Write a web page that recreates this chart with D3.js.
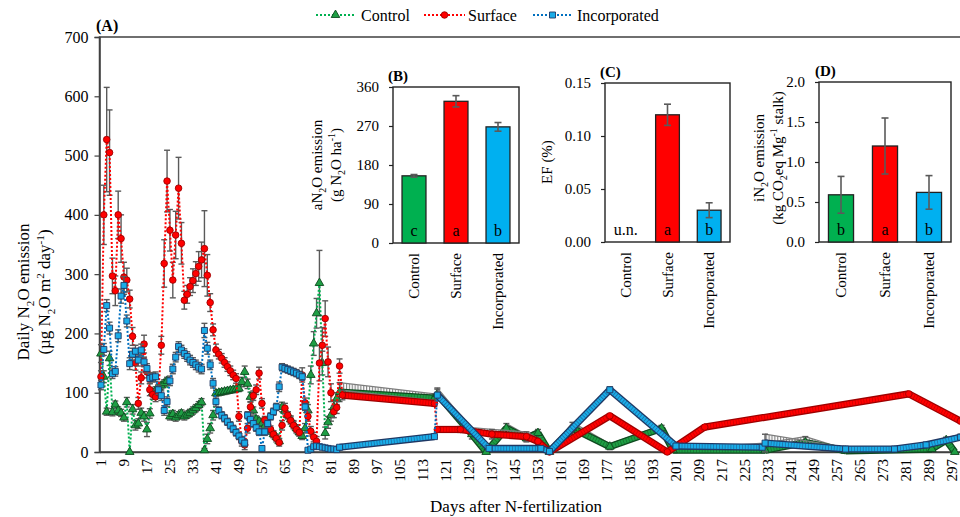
<!DOCTYPE html>
<html><head><meta charset="utf-8">
<script src="https://cdn.jsdelivr.net/npm/d3@7"></script>
<style>
body{margin:0;background:#fff}
svg{display:block}
text{font-family:"Liberation Serif","Times New Roman",serif;fill:#000}
</style>
</head><body><svg id="c" width="960" height="517"></svg>
<script>
// ---------- DATA ----------
// [day, mean, sd]
const controlData = [
[1,166,15],[2,127,10],[3,68,6],[4,158,12],[5,67,6],[6,80,6],[7,70,6],[8,66,6],[9,58,6],[10,84,8],[11,0,0],[12,72,8],[13,45,8],[14,48,8],[15,66,8],[16,60,8],[17,38,12],[18,65,8],[19,100,6],[20,104,6],[21,108,6],[22,112,6],[23,116,6],[24,120,6],[25,60,6],[26,64,6],[27,58,6],[28,62,6],[29,65,6],[30,60,6],[31,63,6],[32,66,6],[33,70,6],[34,74,6],[35,79,6],[36,84,6],[37,3,3],[38,22,8],[39,40,8],[40,62,8],[41,99,5],[42,100,5],[43,101,5],[44,102,5],[45,103,5],[46,104,5],[47,105,5],[48,106,5],[49,107,5],[50,118,8],[51,135,10],[52,115,8],[53,93,8],[54,70,6],[55,55,6],[56,52,5],[57,48,5],[58,44,5],[59,40,5],[60,35,5],[61,30,5],[62,25,5],[63,18,5],[64,76,8],[65,70,6],[66,62,6],[67,55,6],[68,47,6],[69,40,6],[70,33,6],[71,27,6],[72,40,8],[73,70,10],[74,130,15],[75,183,20],[76,234,25],[77,285,55],[78,150,20],[79,32,10],[80,50,10],[81,62,10],[82,76,10],[83,90,10],[84,101,16],
[117,91,7],[118,98,10],[130,30,8],[135,0,0],[142,40,8],[149,23,6],[153,32,6],[157,0,0],[165,40,10],[178,9,5],[196,40,5],[200,3,2],[232,3,12],[246,16,10],[260,2,3],[290,5,3],[295,20,5],[298,0,0]
];
const surfaceData = [
[1,127,10],[2,400,50],[3,527,88],[4,505,72],[5,297,30],[6,272,25],[7,400,40],[8,360,40],[9,295,25],[10,290,20],[11,258,15],[12,195,15],[13,150,12],[14,82,10],[15,125,10],[16,182,15],[17,135,10],[18,105,10],[19,97,8],[20,93,8],[21,100,8],[22,180,15],[23,318,40],[24,457,52],[25,374,35],[26,290,30],[27,366,40],[28,445,52],[29,352,35],[30,256,15],[31,266,15],[32,279,15],[33,289,20],[34,301,20],[35,313,25],[36,324,30],[37,343,64],[38,298,35],[39,252,15],[40,206,10],[41,172,10],[42,165,8],[43,158,8],[44,151,8],[45,144,8],[46,137,8],[47,130,8],[48,124,8],[49,60,8],[50,18,8],[51,12,8],[52,40,8],[53,76,8],[54,95,8],[55,105,8],[56,133,10],[57,82,8],[58,54,6],[59,46,6],[60,38,6],[61,30,6],[62,23,6],[63,16,6],[64,45,8],[65,74,8],[66,62,6],[67,53,6],[68,45,6],[69,38,6],[70,33,6],[71,130,12],[72,83,8],[73,60,8],[74,35,8],[75,25,8],[76,18,8],[77,150,30],[78,180,30],[79,225,30],[80,152,25],[81,100,15],[82,68,10],[83,75,10],[84,145,12],
[85,96,8],[117,82,5],[118,38,4],[126,38,5],[137,30,8],[149,26,8],[153,18,5],[157,0,0],[178,61,3],[198,0,0],[211,42,2],[282,98,2],[300,52,2]
];
const incorporatedData = [
[1,113,8],[2,173,10],[3,247,10],[4,209,10],[5,132,8],[6,136,8],[7,196,10],[8,263,12],[9,281,15],[10,221,10],[11,149,10],[12,165,10],[13,170,10],[14,155,10],[15,172,10],[16,152,8],[17,141,8],[18,124,8],[19,126,8],[20,127,8],[21,105,8],[22,95,8],[23,70,8],[24,85,8],[25,120,8],[26,140,8],[27,160,8],[28,178,8],[29,172,8],[30,166,8],[31,161,8],[32,155,8],[33,151,8],[34,147,8],[35,143,8],[36,140,8],[37,205,12],[38,175,10],[39,147,8],[40,116,8],[41,85,8],[42,70,6],[43,62,6],[44,57,6],[45,51,6],[46,45,6],[47,39,6],[48,33,6],[49,27,6],[50,20,6],[51,15,6],[52,62,6],[53,55,6],[54,48,6],[55,41,6],[56,34,6],[57,6,4],[58,34,6],[59,48,6],[60,60,6],[61,68,6],[62,76,6],[63,110,8],[64,143,6],[65,141,6],[66,139,6],[67,137,6],[68,135,6],[69,133,6],[70,130,6],[71,127,6],[72,76,6],[73,3,2],[74,5,2],[75,9,2],[76,10,2],[77,9,2],[78,8,2],[79,7,2],[80,6,2],[81,5,2],[82,5,2],[83,4,2],[84,8,2],
[117,26,2],[118,96,10],[136,6,3],[154,6,2],[157,1,1],[178,105,5],[201,10,2],[231,8,2],[232,15,15],[260,5,3],[277,5,2],[288,12,3],[300,25,5]
];
const xTickDays = [1,9,17,25,33,41,49,57,65,73,81,89,97,105,113,121,129,137,145,153,161,169,177,185,193,201,209,217,225,233,241,249,257,265,273,281,289,297];
const yTicks = [0,100,200,300,400,500,600,700];

const treatments = ["Control","Surface","Incorporated"];
const aN2O = [155,327,268];
const aN2OErr = [3,13,10];
const aLetters = ["c","a","b"];
const aTicks = [0,90,180,270,360];
const efValues = [null,0.12,0.03];
const efErr = [0,0.01,0.007];
const efLetters = ["u.n.","a","b"];
const efTicks = [0,0.05,0.10,0.15];
const iN2O = [0.59,1.20,0.62];
const iN2OErr = [0.23,0.35,0.21];
const iLetters = ["b","a","b"];
const iTicks = [0,0.5,1.0,1.5,2.0];

// ---------- SETUP ----------
const svg = d3.select('#c');
const FONT = '"Liberation Serif","Times New Roman",serif';
const x = d3.scaleLinear().domain([0.5,300.5]).range([99.5,962]);
const y = d3.scaleLinear().domain([0,700]).range([452,37]);
const AX = '#404040';

function rich(sel, parts, size){
  let off = 0;
  parts.forEach(([t,m])=>{
    const target = m==='sub' ? size*0.27 : (m==='sup' ? -size*0.38 : 0);
    const ts = sel.append('tspan').text(t).attr('dy', (target-off).toFixed(2));
    if(m) ts.attr('font-size', (size*0.66).toFixed(1));
    off = target;
  });
}

const defs = svg.append('defs');
const pat = defs.append('pattern').attr('id','hatch').attr('patternUnits','userSpaceOnUse')
  .attr('width',2.875).attr('height',8);
pat.append('rect').attr('x',1).attr('y',0).attr('width',1.1).attr('height',8).attr('fill','#7d7d7d');

// ---------- MAIN AXES ----------
svg.append('rect').attr('x',99.5).attr('y',37).attr('width',900).attr('height',415)
  .attr('fill','none').attr('stroke',AX).attr('stroke-width',1.5);

const yAxis = svg.append('g').attr('transform','translate(99.5,0)')
  .call(d3.axisLeft(y).tickValues(yTicks).tickSize(5).tickPadding(6));
yAxis.select('.domain').attr('stroke',AX).attr('stroke-width',1.5);
yAxis.selectAll('line').attr('stroke',AX).attr('stroke-width',1.2);
yAxis.selectAll('text').attr('font-family',FONT).attr('font-size',16).attr('fill','#000');

const xAxis = svg.append('g').attr('transform','translate(0,452)')
  .call(d3.axisBottom(x).tickValues(xTickDays).tickSize(0).tickPadding(0));
xAxis.select('.domain').attr('stroke',AX).attr('stroke-width',1.5);
xAxis.selectAll('text').attr('font-family',FONT).attr('font-size',15).attr('fill','#000')
  .attr('transform','rotate(-90)').attr('text-anchor','end').attr('x',-7).attr('y',0).attr('dy','0.33em');

svg.append('text').attr('x',516).attr('y',512).attr('text-anchor','middle').attr('font-size',17)
  .text('Days after N-fertilization');

const yt1 = svg.append('text').attr('transform','translate(29,292) rotate(-90)').attr('text-anchor','middle').attr('font-size',17);
rich(yt1, [['Daily N'],['2','sub'],['O emission']], 17);
const yt2 = svg.append('text').attr('transform','translate(50,292) rotate(-90)').attr('text-anchor','middle').attr('font-size',17);
rich(yt2, [['(µg N'],['2','sub'],['O m'],['2','sup'],[' day'],['-1','sup'],[')']], 17);

svg.append('text').attr('x',96).attr('y',31).attr('font-size',16).attr('font-weight','bold').text('(A)');

// ---------- SERIES ----------
const series = [
  {name:'Control', data:controlData, line:'#00B050', fill:'#1E9E44', edge:'#0E4A1F', sym:d3.symbolTriangle, size:32},
  {name:'Surface', data:surfaceData, line:'#FF0000', fill:'#FF0000', edge:'#9E0000', sym:d3.symbolCircle, size:34},
  {name:'Incorporated', data:incorporatedData, line:'#0070C0', fill:'#1AACE8', edge:'#1F3864', sym:d3.symbolSquare, size:36}
];
const ERR = '#5a5a5a';
const plot = svg.append('g');

series.forEach(s=>{
  const g = plot.append('g');
  const d = s.data;
  const gaps = [];
  for(let i=0;i<d.length-1;i++){ if(d[i+1][0]-d[i][0]>1) gaps.push([d[i],d[i+1]]); }
  gaps.forEach(([a,b])=>{
    if(a[2]+b[2] < 4) return;
    const pts = [[x(a[0]),y(a[1])],[x(b[0]),y(b[1])],[x(b[0]),y(b[1]+b[2])],[x(a[0]),y(a[1]+a[2])]];
    g.append('path').attr('d','M'+pts.join('L')+'Z').attr('fill','url(#hatch)');
    g.append('line').attr('x1',x(a[0])).attr('y1',y(a[1]+a[2])).attr('x2',x(b[0])).attr('y2',y(b[1]+b[2]))
      .attr('stroke','#7d7d7d').attr('stroke-width',1.2);
  });
  d.filter(p=>p[2]>0).forEach(p=>{
    const cx = x(p[0]);
    g.append('line').attr('x1',cx).attr('x2',cx).attr('y1',y(Math.max(0,p[1]-p[2]))).attr('y2',y(p[1]+p[2]))
      .attr('stroke',ERR).attr('stroke-width',1.4);
    [p[1]+p[2], Math.max(0,p[1]-p[2])].forEach(v=>{
      g.append('line').attr('x1',cx-3).attr('x2',cx+3).attr('y1',y(v)).attr('y2',y(v))
        .attr('stroke',ERR).attr('stroke-width',1.4);
    });
  });
  g.append('path').datum(d).attr('d', d3.line().x(p=>x(p[0])).y(p=>y(p[1])))
    .attr('fill','none').attr('stroke',s.line).attr('stroke-width',2).attr('stroke-dasharray','2,2');
  gaps.forEach(([a,b])=>{
    const dd = `M${x(a[0])},${y(a[1])}L${x(b[0])},${y(b[1])}`;
    g.append('path').attr('d',dd).attr('stroke',s.edge).attr('stroke-width',7.2).attr('fill','none');
    g.append('path').attr('d',dd).attr('stroke',s.fill).attr('stroke-width',4.6).attr('fill','none');
    g.append('path').attr('d',dd).attr('stroke',s.edge).attr('stroke-width',4.6).attr('fill','none')
      .attr('stroke-dasharray','0.7,2.175').attr('opacity',0.55);
  });
  g.selectAll('path.m').data(d).join('path').attr('class','m')
    .attr('transform',p=>`translate(${x(p[0])},${y(p[1])})`)
    .attr('d', d3.symbol(s.sym, s.size))
    .attr('fill',s.fill).attr('stroke',s.edge).attr('stroke-width',0.9);
});

// ---------- LEGEND ----------
const legendItems = [
  {label:'Control', s:series[0], x0:316, x1:355, tx:361},
  {label:'Surface', s:series[1], x0:424, x1:465, tx:468},
  {label:'Incorporated', s:series[2], x0:533, x1:572, tx:577}
];
legendItems.forEach(it=>{
  const gy = 15;
  svg.append('line').attr('x1',it.x0).attr('x2',it.x1).attr('y1',gy).attr('y2',gy)
    .attr('stroke',it.s.line).attr('stroke-width',2).attr('stroke-dasharray','2,2');
  svg.append('path').attr('transform',`translate(${(it.x0+it.x1)/2},${gy})`)
    .attr('d',d3.symbol(it.s.sym,it.s.size)).attr('fill',it.s.fill).attr('stroke',it.s.edge).attr('stroke-width',0.9);
  svg.append('text').attr('x',it.tx).attr('y',gy+5.5).attr('font-size',16).text(it.label);
});

// ---------- INSETS ----------
const barColors = ['#00B050','#FF0000','#00B0F0'];
function inset(o){
  const g = svg.append('g');
  const xs = d3.scaleBand().domain(treatments).range([o.x0,o.x1]).paddingInner(0.43).paddingOuter(0.215);
  const ys = d3.scaleLinear().domain([0,o.max]).range([o.y1,o.y0]);
  g.append('rect').attr('x',o.x0).attr('y',o.y0).attr('width',o.x1-o.x0).attr('height',o.y1-o.y0)
    .attr('fill','#fff').attr('stroke','#222').attr('stroke-width',1.4);
  const ax = g.append('g').attr('transform',`translate(${o.x0},0)`)
    .call(d3.axisLeft(ys).tickValues(o.ticks).tickFormat(d3.format(o.fmt)).tickSize(4).tickPadding(10));
  ax.select('.domain').remove();
  ax.selectAll('line').attr('stroke','#222').attr('stroke-width',1.2);
  ax.selectAll('text').attr('font-family',FONT).attr('font-size',15).attr('fill','#000');
  treatments.forEach((t,i)=>{
    const v = o.values[i];
    const cx = xs(t)+xs.bandwidth()/2;
    if(v!=null){
      g.append('rect').attr('x',xs(t)).attr('width',xs.bandwidth()).attr('y',ys(v)).attr('height',ys(0)-ys(v))
        .attr('fill',barColors[i]).attr('stroke','#222').attr('stroke-width',1.3);
      const e = o.errs[i];
      g.append('line').attr('x1',cx).attr('x2',cx).attr('y1',ys(v-e)).attr('y2',ys(v+e)).attr('stroke','#5a5a5a').attr('stroke-width',1.6);
      [v-e,v+e].forEach(w=>g.append('line').attr('x1',cx-3.5).attr('x2',cx+3.5).attr('y1',ys(w)).attr('y2',ys(w)).attr('stroke','#5a5a5a').attr('stroke-width',1.6));
    }
    g.append('text').attr('x',cx).attr('y',o.y1-7).attr('text-anchor','middle').attr('font-size',16).text(o.letters[i]);
    g.append('text').attr('transform',`translate(${cx+5},${o.y1+10}) rotate(-90)`).attr('text-anchor','end')
      .attr('font-size',15).text(t);
  });
  g.append('text').attr('x',o.lx).attr('y',o.y0-6).attr('font-size',15).attr('font-weight','bold').text(o.label);
  o.titles.forEach(([tx,parts])=>{
    const t = g.append('text').attr('transform',`translate(${tx},${o.ty}) rotate(-90)`).attr('text-anchor','middle').attr('font-size',15);
    rich(t, parts, 15);
  });
}
inset({x0:393,x1:519,y0:87,y1:243,max:360,ticks:aTicks,fmt:'d',values:aN2O,errs:aN2OErr,letters:aLetters,label:'(B)',lx:388,
  ty:165, titles:[[322,[['aN'],['2','sub'],['O emission']]],[341,[['(g N'],['2','sub'],['O ha'],['-1','sup'],[')']]]]});
inset({x0:605,x1:730,y0:83,y1:242,max:0.15,ticks:efTicks,fmt:'.2f',values:efValues,errs:efErr,letters:efLetters,label:'(C)',lx:600,
  ty:162, titles:[[552,[['EF (%)']]]]});
inset({x0:819,x1:951,y0:82,y1:242,max:2.0,ticks:iTicks,fmt:'.1f',values:iN2O,errs:iN2OErr,letters:iLetters,label:'(D)',lx:815,
  ty:158, titles:[[764,[['iN'],['2','sub'],['O emission']]],[783,[['(kg CO'],['2','sub'],['eq Mg'],['-1','sup'],[' stalk)']]]]});
</script>
</body></html>
